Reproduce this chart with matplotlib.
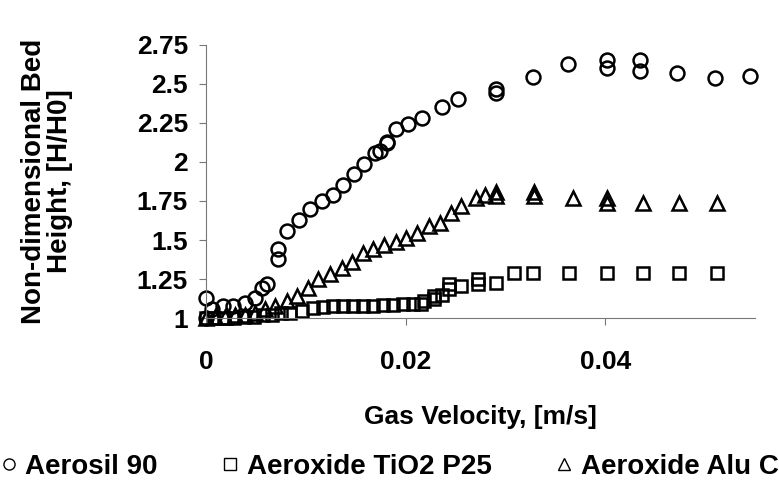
import matplotlib
matplotlib.use("Agg")
import matplotlib.pyplot as plt
from matplotlib.lines import Line2D

plt.rcParams["font.family"] = ["Liberation Sans", "DejaVu Sans"]
plt.rcParams["font.weight"] = "bold"

# Aerosil 90 (cercles)
aerosil_x = [0.0, 0.0, 0.0006, 0.0017, 0.0027, 0.0039, 0.0049, 0.0056, 0.0061,
             0.0072, 0.0072, 0.0081, 0.0093, 0.0104, 0.0116, 0.0127, 0.0137,
             0.0148, 0.0158, 0.0169, 0.0174, 0.0181, 0.0181, 0.019, 0.0202,
             0.0216, 0.0236, 0.0252, 0.029, 0.029, 0.0327, 0.0362, 0.0402,
             0.0402, 0.0435, 0.0435, 0.0472, 0.051, 0.0545]
aerosil_y = [1.13, 1.0, 1.06, 1.08, 1.08, 1.10, 1.13, 1.19, 1.22,
             1.38, 1.44, 1.56, 1.63, 1.70, 1.75, 1.79, 1.85,
             1.92, 1.99, 2.06, 2.07, 2.12, 2.13, 2.21, 2.24,
             2.28, 2.35, 2.40, 2.47, 2.44, 2.545, 2.63, 2.65,
             2.60, 2.65, 2.58, 2.57, 2.54, 2.55]

# Aeroxide TiO2 P25 (carres)
tio2_x = [0.0, 0.0008, 0.0018, 0.0028, 0.0038, 0.0048, 0.0057, 0.0066, 0.0075,
          0.0084, 0.0096, 0.0107, 0.0117, 0.0127, 0.0137, 0.0147, 0.0157,
          0.0167, 0.0177, 0.0187, 0.0197, 0.0207, 0.0215, 0.0218, 0.0228,
          0.0228, 0.0236, 0.0243, 0.0243, 0.0255, 0.0272, 0.0272, 0.029,
          0.0308, 0.0327, 0.0363, 0.0402, 0.0438, 0.0474, 0.0512]
tio2_y = [1.0, 1.0, 1.0, 1.0, 1.01, 1.01, 1.02, 1.02, 1.03,
          1.03, 1.045, 1.065, 1.07, 1.075, 1.075, 1.08, 1.08,
          1.08, 1.085, 1.085, 1.09, 1.09, 1.09, 1.11, 1.12,
          1.14, 1.15, 1.185, 1.22, 1.205, 1.22, 1.25, 1.225,
          1.29, 1.29, 1.29, 1.29, 1.29, 1.29, 1.29]

# Aeroxide Alu C (triangles)
alu_x = [0.0, 0.0009, 0.0019, 0.0029, 0.0039, 0.0049, 0.0059, 0.0069, 0.0081,
         0.0091, 0.0102, 0.0112, 0.0124, 0.0136, 0.0146, 0.0157, 0.0167,
         0.0178, 0.019, 0.020, 0.0211, 0.0223, 0.0234, 0.0245, 0.0255,
         0.027, 0.0279, 0.029, 0.029, 0.0328, 0.0328, 0.0367, 0.0402,
         0.0402, 0.0438, 0.0474, 0.0512]
alu_y = [1.0, 1.01, 1.01, 1.02, 1.02, 1.03, 1.06, 1.08, 1.11,
         1.14, 1.19, 1.25, 1.28, 1.32, 1.36, 1.42, 1.44,
         1.47, 1.49, 1.51, 1.545, 1.59, 1.61, 1.67, 1.72,
         1.77, 1.79, 1.81, 1.78, 1.81, 1.78, 1.77, 1.77,
         1.74, 1.74, 1.74, 1.74]

x_ticks = [0, 0.02, 0.04]
x_labels = ["0", "0.02", "0.04"]
y_ticks = [1, 1.25, 1.5, 1.75, 2, 2.25, 2.5, 2.75]
y_labels = ["1", "1.25", "1.5", "1.75", "2", "2.25", "2.5", "2.75"]

fig = plt.figure(figsize=(7.79, 4.82), dpi=100)
ax = fig.add_axes([0.2645, 0.340, 0.705, 0.567])

style = dict(linestyle="none", markerfacecolor="none", markeredgecolor="black",
             markeredgewidth=1.8, clip_on=False)
ax.plot(aerosil_x, aerosil_y, marker="o", markersize=10, **style)
ax.plot(tio2_x, tio2_y, marker="s", markersize=9, **style)
ax.plot(alu_x, alu_y, marker="^", markersize=10, **style)

ax.set_xlim(0, 0.055)
ax.set_ylim(1, 2.75)
ax.set_xticks(x_ticks)
ax.set_xticklabels(x_labels)
ax.set_yticks(y_ticks)
ax.set_yticklabels(y_labels)
ax.tick_params(axis="x", length=5, width=0.8, color="#777777", pad=18, labelsize=19)
ax.tick_params(axis="y", length=5, width=0.8, color="#777777", pad=8, labelsize=19)

for s in ["top", "right"]:
    ax.spines[s].set_visible(False)
for s in ["left", "bottom"]:
    ax.spines[s].set_color("#777777")
    ax.spines[s].set_linewidth(0.8)

ax.set_xlabel("Gas Velocity, [m/s]", fontsize=19, fontweight="bold", labelpad=22)
ax.set_ylabel("Non-dimensional Bed\nHeight, [H/H0]", fontsize=20, fontweight="bold",
              labelpad=46, linespacing=1.0)

handles = [
    Line2D([], [], marker="o", markersize=8, linestyle="none", markerfacecolor="none",
           markeredgecolor="black", markeredgewidth=1, label="Aerosil 90"),
    Line2D([], [], marker="s", markersize=8, linestyle="none", markerfacecolor="none",
           markeredgecolor="black", markeredgewidth=1, label="Aeroxide TiO2 P25"),
    Line2D([], [], marker="^", markersize=8, linestyle="none", markerfacecolor="none",
           markeredgecolor="black", markeredgewidth=1, label="Aeroxide Alu C"),
]
fig.legend(handles=handles, loc="center", bbox_to_anchor=(0.5, 1 - 467 / 482), ncol=3,
           frameon=False, fontsize=20, handletextpad=0.3, columnspacing=2.3,
           handlelength=0.6)

fig.savefig("out.png", dpi=100)
